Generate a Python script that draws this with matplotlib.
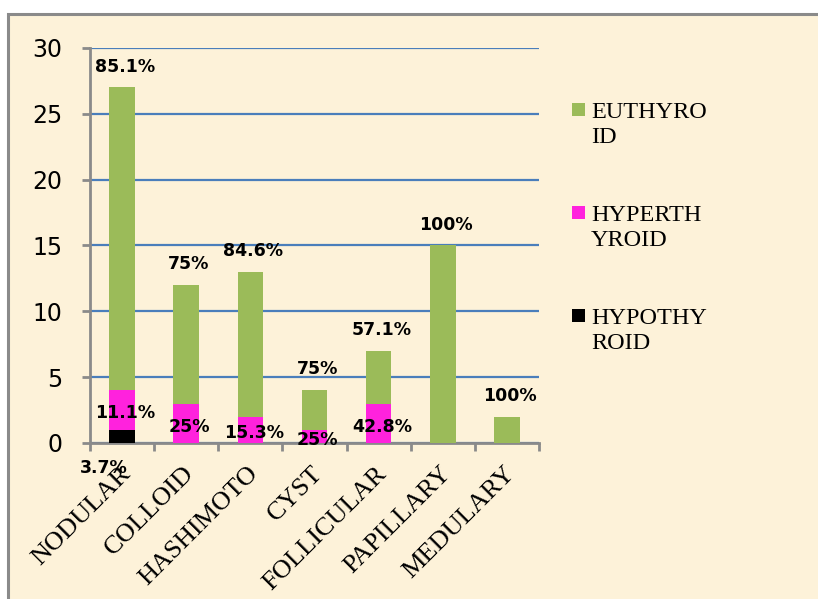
import numpy as np
import matplotlib.pyplot as plt
from matplotlib.patches import Rectangle
import matplotlib.transforms as mtransforms

categories = ['NODULAR', 'COLLOID', 'HASHIMOTO', 'CYST', 'FOLLICULAR', 'PAPILLARY', 'MEDULARY']
hypothyroid = [1, 0, 0, 0, 0, 0, 0]
hyperthyroid = [3, 3, 2, 1, 3, 0, 0]
euthyroid = [23, 9, 11, 3, 4, 15, 2]

eu_labels = ['85.1%', '75%', '84.6%', '75%', '57.1%', '100%', '100%']
hyper_labels = ['11.1%', '25%', '15.3%', '25%', '42.8%', '', '']
hypo_labels = ['3.7%', '', '', '', '', '', '']

legend_names = ['EUTHYRO\nID', 'HYPERTH\nYROID', 'HYPOTHY\nROID']

green = '#9bbb59'
pink = '#ff22dd'
beige = '#fdf2d9'
W, H = 818, 599

fig = plt.figure(figsize=(W / 100, H / 100), dpi=100, facecolor='white')
# parchment panel with grey border on top / left
fig.patches.append(Rectangle((8 / W, -0.01), 1.0, (H - 14) / H + 0.01,
                             transform=fig.transFigure, facecolor=beige,
                             edgecolor='#8a8a8a', linewidth=2.2, zorder=-5))

ax = fig.add_axes([90 / W, (H - 443) / H, (539 - 90) / W, (443 - 48) / H])
ax.set_facecolor('none')

x = np.arange(len(categories))
hypo = np.array(hypothyroid)
hyper = np.array(hyperthyroid)
eu = np.array(euthyroid)
w = 0.4

ax.bar(x, hypo, w, color='black', zorder=3)
ax.bar(x, hyper, w, bottom=hypo, color=pink, zorder=3)
ax.bar(x, eu, w, bottom=hypo + hyper, color=green, zorder=3)

ax.set_xlim(-0.5, len(categories) - 0.5)
ax.set_ylim(0, 30)
ax.set_yticks(range(0, 31, 5))
ax.yaxis.grid(True, color='#4a7ebb', linewidth=1.6, zorder=1)
ax.set_axisbelow(True)
for s in ['top', 'right']:
    ax.spines[s].set_visible(False)
for s in ['left', 'bottom']:
    ax.spines[s].set_color('#8a8a8a')
    ax.spines[s].set_linewidth(2)
ax.tick_params(axis='y', length=6, width=2, color='#8a8a8a', labelsize=17, pad=14)

ax.set_xticks(x)
ax.set_xticks(np.arange(-0.5, len(categories), 1), minor=True)
ax.tick_params(axis='x', which='major', length=0, pad=14)
ax.tick_params(axis='x', which='minor', length=6, width=2, color='#8a8a8a')
ax.set_xticklabels(categories, rotation=45, ha='right', va='top', rotation_mode='anchor',
                   fontsize=19, family='Liberation Serif')
off = mtransforms.ScaledTranslation(-3 / 100, 0, fig.dpi_scale_trans)
for lbl in ax.get_xticklabels():
    lbl.set_transform(lbl.get_transform() + off)

tot = hypo + hyper + eu
for i in range(len(categories)):
    ax.annotate(eu_labels[i], (x[i], tot[i]), xytext=(2, 15), textcoords='offset points',
                ha='center', va='center', fontsize=12.5, fontweight='bold', zorder=5)
    if hyper_labels[i]:
        ax.text(x[i] + 0.05, hypo[i] + hyper[i] / 2 - 0.25, hyper_labels[i],
                ha='center', va='center', fontsize=12.5, fontweight='bold', zorder=5)
    if hypo_labels[i]:
        ax.annotate(hypo_labels[i], (x[i], 0), xytext=(-13, -18), textcoords='offset points',
                    ha='center', va='center', fontsize=12.5, fontweight='bold', zorder=5,
                    annotation_clip=False)

# legend drawn by hand so the square sits on the first text line
for k, (name, col) in enumerate(zip(legend_names, [green, pink, 'black'])):
    top = 103 + k * 103
    fig.patches.append(Rectangle((572 / W, 1 - (top + 13) / H), 13 / W, 13 / H,
                                 transform=fig.transFigure, facecolor=col, edgecolor='none'))
    fig.text(591 / W, 1 - (top - 1) / H, name, family='Liberation Serif', fontsize=17.5,
             ha='left', va='top', linespacing=1.25)

fig.savefig('out.png', dpi=100, facecolor='white')
